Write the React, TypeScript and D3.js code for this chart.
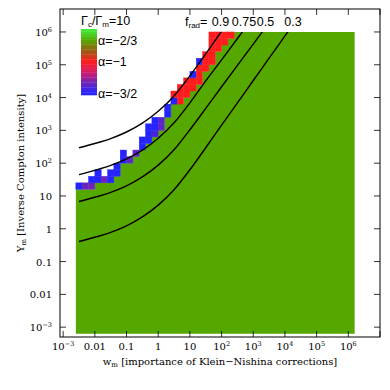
import React from 'react';
import * as d3 from 'd3';

// ---- axes ----
const X_LOG_DOMAIN = [-3.1, 7];
const Y_LOG_DOMAIN = [-3.3, 6.7];
const xTickExps = [-3, -2, -1, 0, 1, 2, 3, 4, 5, 6];
const xTickLabels = ['10^−3', '0.01', '0.1', '1', '10', '10^2', '10^3', '10^4', '10^5', '10^6'];
const yTickExps = [-3, -2, -1, 0, 1, 2, 3, 4, 5, 6];
const yTickLabels = ['10^−3', '0.01', '0.1', '1', '10', '10^2', '10^3', '10^4', '10^5', '10^6'];

// ---- grid of cells (log10 units) ----
const GRID_W0 = -2.6;
const GRID_STEP = 0.2;
const GRID_Y0 = -3.2;
// top (log10 Y) of the alpha = -2/3 region in each column
const greenTop = [
  1.2, 1.2, 1.2, 1.4, 1.4, 1.4, 1.6, 2.0, 2.0, 2.2, 2.4, 2.6, 2.8, 3.0, 3.4, 3.8, 3.8, 4.0, 4.2, 4.4,
  4.8, 5.0, 5.4, 5.6, 5.8, 6.0, 6.0, 6.0, 6.0, 6.0, 6.0, 6.0, 6.0, 6.0, 6.0, 6.0, 6.0, 6.0, 6.0, 6.0,
  6.0, 6.0, 6.0, 6.0,
];
// boundary cells: [column, log10 Y bottom, alpha]
const boundaryCells = [
  [0, 1.2, -1.5], [1, 1.2, -1.35], [2, 1.2, -1.35], [2, 1.4, -1.5], [3, 1.4, -1.5], [3, 1.6, -1.5],
  [4, 1.4, -1.35], [5, 1.4, -1.5], [5, 1.6, -1.5], [6, 1.6, -1.5], [6, 1.8, -1.5], [7, 2.0, -1.5],
  [7, 2.2, -1.5], [8, 2.0, -1.38], [9, 2.2, -1.38], [10, 2.4, -1.5], [10, 2.6, -1.5], [11, 2.6, -1.5],
  [11, 2.8, -1.5], [11, 3.0, -1.5], [12, 2.8, -1.42], [12, 3.0, -1.5], [12, 3.2, -1.5], [13, 3.0, -1.38],
  [13, 3.2, -1.38], [14, 3.4, -1.5], [14, 3.6, -1.5], [15, 3.8, -1.5], [15, 4.0, -1.0], [16, 3.8, -1.0],
  [16, 4.0, -1.0], [16, 4.2, -1.0], [17, 4.0, -1.0], [17, 4.2, -1.0], [17, 4.4, -1.0], [18, 4.2, -1.0],
  [18, 4.4, -1.0], [18, 4.6, -1.5], [19, 4.4, -1.0], [19, 4.6, -1.0], [19, 4.8, -1.0], [19, 5.0, -1.5],
  [20, 4.8, -1.0], [20, 5.0, -1.0], [20, 5.2, -1.0], [21, 5.0, -1.0], [21, 5.2, -1.0], [21, 5.4, -1.0],
  [21, 5.6, -1.0], [21, 5.8, -1.0], [22, 5.4, -1.0], [22, 5.6, -1.0], [22, 5.8, -1.0], [23, 5.6, -1.0],
  [23, 5.8, -1.0], [24, 5.8, -1.0],
];

// ---- f_rad curves (log10 w_m, log10 Y_m) ----
const fradLabels = ['0.9', '0.75', '0.5', '0.3'];
const curveLogW = [-2.5, -2, -1.5, -1, -0.5, 0, 0.5, 1, 1.5, 2, 2.5, 3, 3.5, 4, 4.5];
const curve09 = [2.47, 2.6, 2.75, 2.95, 3.22, 3.58, 4.05, 4.66, 5.33, 6.02];
const curve075 = [1.65, 1.78, 1.93, 2.13, 2.4, 2.76, 3.23, 3.84, 4.51, 5.15, 5.8, 6.45];
const curve05 = [0.83, 0.96, 1.11, 1.31, 1.58, 1.94, 2.41, 3.02, 3.67, 4.33, 4.98, 5.63, 6.28];
const curve03 = [-0.39, -0.26, -0.11, 0.09, 0.36, 0.72, 1.19, 1.8, 2.47, 3.16, 3.84, 4.52, 5.2, 5.88, 6.56];

// ---- colour bar ----
const cbAlphas = [-0.49, -0.667, -0.84, -1.0, -1.18, -1.35, -1.5, -1.53];
const cbColors = ['#3cf53c', '#55a800', '#9a5a14', '#ff1c1c', '#d01c6e', '#6a24bc', '#2424ff', '#2424ff'];
const cbLabels = [
  { a: -2 / 3, t: 'α=−2/3' },
  { a: -1, t: 'α=−1' },
  { a: -1.5, t: 'α=−3/2' },
];

function Label({ s, x, y, anchor, size }: { s: string; x: number; y: number; anchor: string; size: number }) {
  const [base, exp] = s.split('^');
  return (
    <text x={x} y={y} textAnchor={anchor} fontFamily="DejaVu Serif" fontSize={size} fill="#000">
      {base}
      {exp !== undefined && (
        <tspan dy={-size * 0.4} fontSize={size * 0.65}>
          {exp}
        </tspan>
      )}
    </text>
  );
}

export default function App() {
  const L = 60, R = 380, T = 9, B = 337;
  const x = d3.scaleLog().domain(X_LOG_DOMAIN.map((v) => 10 ** v)).range([L, R]);
  const y = d3.scaleLog().domain(Y_LOG_DOMAIN.map((v) => 10 ** v)).range([B, T]);
  const lx = (v: number) => x(10 ** v);
  const ly = (v: number) => y(10 ** v);

  const colour = d3
    .scaleLinear<string>()
    .domain(cbAlphas)
    .range(cbColors)
    .interpolate(d3.interpolateRgb)
    .clamp(true);

  // green region as a staircase polygon
  let gPath = `M${lx(GRID_W0)},${ly(GRID_Y0)}`;
  greenTop.forEach((t, c) => {
    const x0 = lx(GRID_W0 + c * GRID_STEP);
    const x1 = lx(GRID_W0 + (c + 1) * GRID_STEP);
    gPath += `L${x0},${ly(t)}L${x1},${ly(t)}`;
  });
  gPath += `L${lx(GRID_W0 + greenTop.length * GRID_STEP)},${ly(GRID_Y0)}Z`;

  const line = d3
    .line<[number, number]>()
    .x((d) => lx(d[0]))
    .y((d) => ly(d[1]))
    .curve(d3.curveMonotoneX);
  const curves = [curve09, curve075, curve05, curve03].map((c) =>
    c.map((v, i) => [curveLogW[i], v] as [number, number])
  );

  // ticks
  const xt = x.ticks();
  const yt = y.ticks();
  const isMajor = (v: number) => Math.abs(Math.log10(v) - Math.round(Math.log10(v))) < 1e-6;
  const maj = 6, mnr = 3;

  // colour bar geometry
  const cbY = d3.scaleLinear().domain([-0.49, -1.53]).range([29, 95]);
  const cbBands = d3.range(0, 26).map((i) => {
    const a0 = -0.49 - (i * 1.04) / 26;
    const a1 = -0.49 - ((i + 1) * 1.04) / 26;
    return { a0, a1, c: colour((a0 + a1) / 2) };
  });

  return (
    <svg width={390} height={390} style={{ position: 'absolute', left: 0, top: 0, background: '#fff' }}>
      <defs>
        <clipPath id="clipTop">
          <rect x={L} y={ly(6)} width={R - L} height={B - ly(6)} />
        </clipPath>
      </defs>
      <rect x={0} y={0} width={390} height={390} fill="#fff" />
      <path d={gPath} fill="#55a800" />
      {boundaryCells.map(([c, yb, a], i) => {
        const x0 = lx(GRID_W0 + c * GRID_STEP);
        const x1 = lx(GRID_W0 + (c + 1) * GRID_STEP);
        const y0 = ly(yb + GRID_STEP);
        const y1 = ly(yb);
        return (
          <rect key={i} x={x0} y={y0} width={x1 - x0} height={y1 - y0} fill={colour(a)} stroke={colour(a)} strokeWidth={0.4} />
        );
      })}
      <g clipPath="url(#clipTop)">
        {curves.map((c, i) => (
          <path key={i} d={line(c) || ''} fill="none" stroke="#000" strokeWidth={1.4} />
        ))}
      </g>

      {/* frame */}
      <rect x={L} y={T} width={R - L} height={B - T} fill="none" stroke="#000" strokeWidth={1} />
      {xt.map((v, i) => {
        const len = isMajor(v) ? maj : mnr;
        const px = x(v);
        return (
          <g key={'xt' + i}>
            <line x1={px} x2={px} y1={B} y2={B - len} stroke="#000" strokeWidth={0.8} />
            <line x1={px} x2={px} y1={T} y2={T + len} stroke="#000" strokeWidth={0.8} />
          </g>
        );
      })}
      {yt.map((v, i) => {
        const len = isMajor(v) ? maj : mnr;
        const py = y(v);
        return (
          <g key={'yt' + i}>
            <line x1={L} x2={L + len} y1={py} y2={py} stroke="#000" strokeWidth={0.8} />
            <line x1={R} x2={R - len} y1={py} y2={py} stroke="#000" strokeWidth={0.8} />
          </g>
        );
      })}
      {xTickExps.map((e, i) => (
        <Label key={'xl' + i} s={xTickLabels[i]} x={lx(e)} y={B + 13} anchor="middle" size={10} />
      ))}
      {yTickExps.map((e, i) => (
        <Label key={'yl' + i} s={yTickLabels[i]} x={L - 8} y={ly(e) + 4} anchor="end" size={10} />
      ))}

      {/* axis titles */}
      <text x={(L + R) / 2} y={B + 28} textAnchor="middle" fontFamily="DejaVu Serif" fontSize={10}>
        w<tspan dy={2} fontSize={7}>m</tspan>
        <tspan dy={-2}> [importance of Klein−Nishina corrections]</tspan>
      </text>
      <text
        transform={`translate(24,${(T + B) / 2}) rotate(-90)`}
        textAnchor="middle"
        fontFamily="DejaVu Serif"
        fontSize={10}
      >
        Y<tspan dy={2} fontSize={7}>m</tspan>
        <tspan dy={-2}> [Inverse Compton intensity]</tspan>
      </text>

      {/* colour bar legend */}
      {cbBands.map((b, i) => (
        <rect key={'cb' + i} x={81} y={cbY(b.a0)} width={16} height={cbY(b.a1) - cbY(b.a0) + 0.3} fill={b.c} />
      ))}
      {cbLabels.map((d, i) => (
        <text key={'cbl' + i} x={98} y={cbY(d.a) + 4.5} fontFamily="Liberation Sans" fontSize={12.5}>
          {d.t}
        </text>
      ))}
      <text x={81} y={25} fontFamily="Liberation Sans" fontSize={12.5}>
        Γ<tspan dy={2} fontSize={8}>c</tspan>
        <tspan dy={-2}>/Γ</tspan>
        <tspan dy={2} fontSize={8}>m</tspan>
        <tspan dy={-2}>=10</tspan>
      </text>

      {/* f_rad labels */}
      <text x={185} y={26} fontFamily="Liberation Sans" fontSize={12.5}>
        f<tspan dy={2} fontSize={8}>rad</tspan>
        <tspan dy={-2}>=</tspan>
      </text>
      {fradLabels.map((t, i) => {
        const pos = [220.5, 244, 265.5, 293][i];
        return (
          <text key={'fr' + i} x={pos} y={26} textAnchor="middle" fontFamily="Liberation Sans" fontSize={12.5}>
            {t}
          </text>
        );
      })}
    </svg>
  );
}
